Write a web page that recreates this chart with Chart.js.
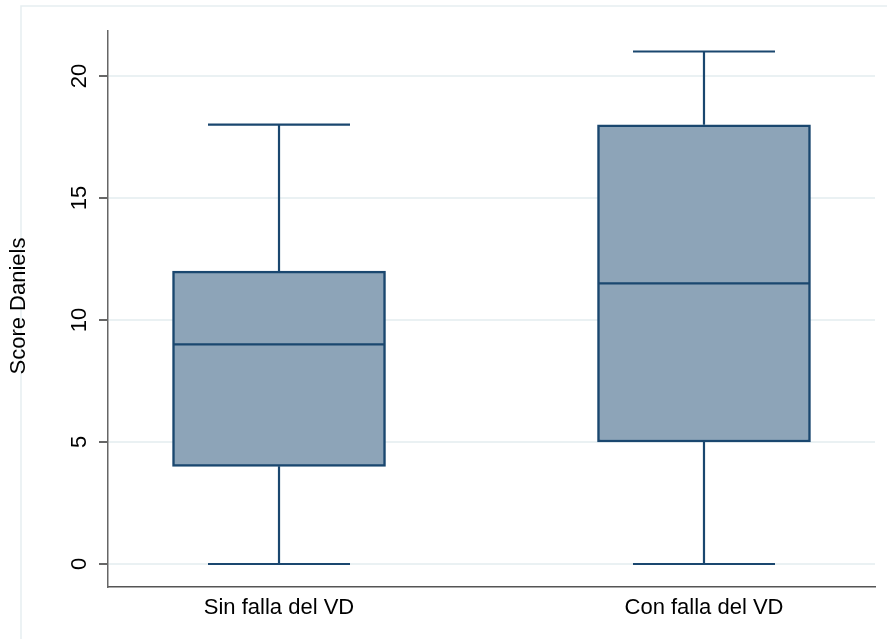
<!DOCTYPE html>
<html>
<head>
<meta charset="utf-8">
<title>Score Daniels</title>
<script src="https://cdn.jsdelivr.net/npm/chart.js@4/dist/chart.umd.min.js"></script>
<style>
  html, body { margin: 0; padding: 0; background: #ffffff; }
  #wrap { width: 887px; height: 639px; }
</style>
</head>
<body>
<div id="wrap"><canvas id="c" width="887" height="639"></canvas></div>
<script>
// Box plot summaries for each group
const categories = ['Sin falla del VD', 'Con falla del VD'];
const whiskerLow = [0, 0];
const quartile1 = [4, 5];
const medians = [9, 11.5];
const quartile3 = [12, 18];
const whiskerHigh = [18, 21];
const yTickValues = [0, 5, 10, 15, 20];
const yTitle = 'Score Daniels';

const FONT = "'Liberation Sans', Arial, Helvetica, sans-serif";
const NAVY = '#1a476f';

// Frame around the whole graph region
const framePlugin = {
  id: 'frame',
  beforeDraw(chart) {
    const ctx = chart.ctx;
    ctx.save();
    ctx.fillStyle = '#ffffff';
    ctx.fillRect(0, 0, chart.width, chart.height);
    ctx.strokeStyle = '#e6eef1';
    ctx.lineWidth = 1.5;
    ctx.beginPath();
    ctx.moveTo(21, chart.height);
    ctx.lineTo(21, 6);
    ctx.lineTo(chart.width, 6);
    ctx.stroke();
    ctx.restore();
  }
};

// Whiskers, caps and medians, positioned with the chart scales
const boxPlugin = {
  id: 'boxParts',
  afterDatasetsDraw(chart) {
    const ctx = chart.ctx;
    const xs = chart.scales.x, ys = chart.scales.y;
    const capHalf = 71;
    const boxHalf = 106;
    ctx.save();
    ctx.strokeStyle = NAVY;
    ctx.lineWidth = 2.2;
    ctx.lineCap = 'butt';
    categories.forEach((c, i) => {
      const cx = xs.getPixelForValue(i + 1);
      const yLo = ys.getPixelForValue(whiskerLow[i]);
      const yQ1 = ys.getPixelForValue(quartile1[i]);
      const yMed = ys.getPixelForValue(medians[i]);
      const yQ3 = ys.getPixelForValue(quartile3[i]);
      const yHi = ys.getPixelForValue(whiskerHigh[i]);
      ctx.beginPath();
      // upper whisker and cap
      ctx.moveTo(cx, yQ3); ctx.lineTo(cx, yHi);
      ctx.moveTo(cx - capHalf, yHi); ctx.lineTo(cx + capHalf, yHi);
      // lower whisker and cap
      ctx.moveTo(cx, yQ1); ctx.lineTo(cx, yLo);
      ctx.moveTo(cx - capHalf, yLo); ctx.lineTo(cx + capHalf, yLo);
      // median
      ctx.moveTo(cx - boxHalf, yMed); ctx.lineTo(cx + boxHalf, yMed);
      ctx.stroke();
    });
    ctx.restore();
  },
  afterDraw(chart) {
    // vertical tick labels and axis title
    const ctx = chart.ctx;
    const ys = chart.scales.y;
    ctx.save();
    ctx.fillStyle = '#000000';
    ctx.font = '22px ' + FONT;
    ctx.textAlign = 'center';
    ctx.textBaseline = 'middle';
    ys.ticks.forEach(t => {
      const y = ys.getPixelForValue(t.value);
      ctx.save();
      ctx.translate(80, y);
      ctx.rotate(-Math.PI / 2);
      ctx.fillText(String(t.value), 0, 0);
      ctx.restore();
    });
    ctx.font = '22px ' + FONT;
    ctx.translate(19, 306);
    ctx.rotate(-Math.PI / 2);
    ctx.fillText(yTitle, 0, 0);
    ctx.restore();
  }
};

new Chart(document.getElementById('c'), {
  type: 'bar',
  data: {
    datasets: [{
      data: categories.map((c, i) => ({ x: i + 1, y: [quartile1[i], quartile3[i]] })),
      backgroundColor: '#8da4b8',
      borderColor: NAVY,
      borderWidth: 2.5,
      borderSkipped: false,
      barThickness: 213
    }]
  },
  options: {
    responsive: false,
    animation: false,
    devicePixelRatio: 1,
    layout: { padding: { left: 0, right: 12, top: 31, bottom: 0 } },
    plugins: { legend: { display: false }, tooltip: { enabled: false } },
    scales: {
      x: {
        type: 'linear',
        offset: false,
        min: 0.5976,
        max: 2.4024,
        afterBuildTicks: s => { s.ticks = categories.map((c, i) => ({ value: i + 1 })); },
        afterFit: s => { s.height = 52; },
        grid: { display: false, drawTicks: false, offset: false },
        border: { display: true, color: '#555555', width: 1.5 },
        ticks: {
          callback: v => categories[v - 1] || '',
          color: '#000000',
          font: { family: FONT, size: 22 },
          padding: 8,
          maxRotation: 0,
          autoSkip: false
        }
      },
      y: {
        type: 'linear',
        min: -0.943,
        max: 21.84,
        afterBuildTicks: s => { s.ticks = yTickValues.map(v => ({ value: v })); },
        afterFit: s => { s.width = 108; },
        grid: {
          color: '#eaf1f3',
          lineWidth: 2,
          drawTicks: true,
          tickLength: 9,
          tickColor: '#000000',
          tickWidth: 1.2
        },
        border: { display: true, color: '#666666', width: 1.5 },
        ticks: { display: false }
      }
    }
  },
  plugins: [framePlugin, boxPlugin]
});
</script>
</body>
</html>
